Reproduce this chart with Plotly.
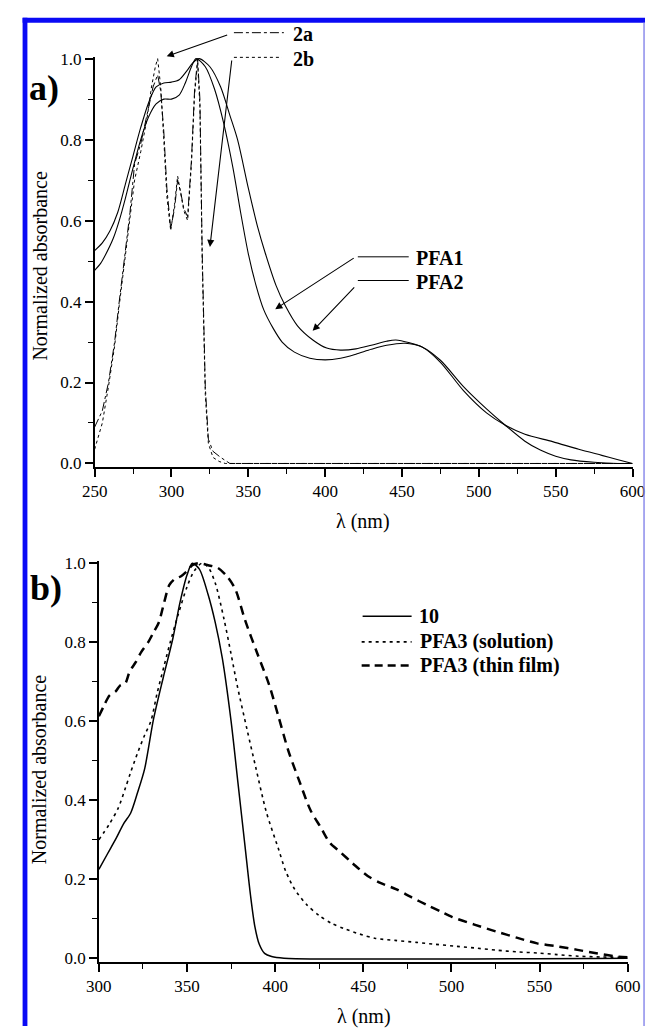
import plotly.graph_objects as go

W, H = 658, 1032
FONT = "Liberation Serif, Times New Roman, serif"

# ---------------- data: panel a ----------------
pfa1_x = [250, 254, 257, 262, 266, 270, 275, 280, 285, 290, 295, 300, 305, 309, 313, 316,
          322, 328, 334, 340, 345, 350, 355, 360, 366, 372, 380, 390, 400, 410, 420, 430,
          440, 452, 463, 475, 490, 505, 517, 530, 540, 550, 560, 575, 590, 600]
pfa1_y = [0.477, 0.495, 0.515, 0.555, 0.60, 0.655, 0.73, 0.80, 0.855, 0.888, 0.90, 0.90, 0.91, 0.94, 0.98, 1.0,
          0.98, 0.925, 0.84, 0.73, 0.62, 0.518, 0.44, 0.38, 0.335, 0.30, 0.275, 0.26, 0.256, 0.26, 0.27, 0.282,
          0.292, 0.297, 0.288, 0.255, 0.19, 0.135, 0.095, 0.055, 0.033, 0.018, 0.009, 0.003, 0.0, 0.0]

pfa2_x = [250, 255, 260, 265, 270, 275, 280, 285, 290, 295, 300, 305, 310, 314, 318,
          325, 332, 338, 343, 350, 356, 361, 368, 374, 382, 392, 401, 410, 420, 430, 440, 446,
          455, 463, 475, 490, 505, 517, 530, 548, 565, 580, 590, 600]
pfa2_y = [0.526, 0.545, 0.575, 0.62, 0.69, 0.76, 0.83, 0.89, 0.93, 0.94, 0.942, 0.948, 0.97, 0.99, 1.0,
          0.98, 0.93, 0.86, 0.80, 0.68, 0.585, 0.52, 0.44, 0.39, 0.34, 0.305, 0.285, 0.28, 0.283, 0.292, 0.302, 0.305,
          0.298, 0.288, 0.25, 0.18, 0.125, 0.095, 0.072, 0.054, 0.035, 0.02, 0.01, 0.0]

c2a_x = [250, 255, 259, 263, 266, 270, 273, 276, 280, 284, 288, 291, 293, 295, 297, 299.5, 302, 304,
         306, 308, 310.5, 313, 315, 317, 318.5, 320, 322, 324, 327, 332, 338, 600]
c2a_y = [0.09, 0.13, 0.20, 0.30, 0.40, 0.52, 0.62, 0.74, 0.79, 0.86, 0.93, 0.96, 0.92, 0.82, 0.68, 0.58, 0.63, 0.70,
         0.67, 0.63, 0.61, 0.75, 0.92, 1.0, 0.9, 0.52, 0.19, 0.06, 0.03, 0.015, 0.0, 0.0]

c2b_x = [250, 255, 259, 263, 266, 270, 273, 276, 280, 284, 287, 289.5, 291, 293, 295, 297, 299.5, 302,
         304, 306, 308, 310.5, 313, 315, 317, 318.5, 320, 322, 324, 327, 331, 335, 600]
c2b_y = [0.035, 0.10, 0.19, 0.29, 0.39, 0.51, 0.60, 0.70, 0.77, 0.85, 0.93, 0.98, 1.0, 0.93, 0.80, 0.66, 0.575, 0.64,
         0.71, 0.665, 0.625, 0.60, 0.74, 0.91, 0.99, 0.88, 0.5, 0.17, 0.05, 0.015, 0.005, 0.0, 0.0]

# ---------------- data: panel b ----------------
c10_x = [300, 305, 310, 314, 318, 322, 326, 331, 336.5, 342, 346, 350, 353, 357, 362, 366, 370,
         375, 379, 383, 386, 388.5, 391, 394, 398, 405, 600]
c10_y = [0.225, 0.265, 0.305, 0.34, 0.367, 0.42, 0.48, 0.605, 0.71, 0.81, 0.90, 0.97, 1.0, 0.985, 0.92, 0.85, 0.76,
         0.60, 0.44, 0.28, 0.16, 0.08, 0.035, 0.012, 0.004, 0.0, 0.0]

sol_x = [300, 306, 311, 315, 318, 322, 326, 329.5, 333, 337, 340.5, 345, 350, 354, 358.5, 362, 366, 371,
         375, 378.5, 384, 389, 395, 402, 406, 411, 418, 425, 432, 439, 448, 457, 468, 480, 491,
         503, 515, 526, 537, 549, 560, 572, 585, 599]
sol_y = [0.30, 0.34, 0.38, 0.43, 0.47, 0.52, 0.565, 0.60, 0.67, 0.74, 0.80, 0.87, 0.94, 0.98, 1.0, 0.99, 0.95, 0.858,
         0.77, 0.69, 0.58, 0.483, 0.37, 0.275, 0.22, 0.175, 0.135, 0.108, 0.088, 0.075, 0.061, 0.05, 0.045, 0.04, 0.035,
         0.03, 0.025, 0.02, 0.016, 0.013, 0.009, 0.005, 0.003, 0.002]

film_x = [300, 303, 306, 309.4, 312, 315, 317, 318.5, 321, 324, 328, 331, 334, 337, 340, 343, 346.6, 350,
          353, 356.6, 362, 367.5, 373, 377.5, 383, 390, 396.6, 402, 407.5, 414, 420, 426, 431, 436.6,
          444, 452.5, 460, 468.5, 477, 486.8, 494, 500.5, 513, 525.7, 537, 548.6, 560, 571.5, 583, 594.3, 600]
film_y = [0.6125, 0.64, 0.665, 0.675, 0.69, 0.696, 0.72, 0.733, 0.75, 0.775, 0.80, 0.825, 0.85, 0.90, 0.945, 0.96, 0.967, 0.98,
          0.995, 1.0, 0.995, 0.988, 0.965, 0.933, 0.855, 0.77, 0.692, 0.61, 0.525, 0.445, 0.375, 0.33, 0.292, 0.27,
          0.24, 0.208, 0.19, 0.175, 0.155, 0.133, 0.118, 0.104, 0.085, 0.067, 0.052, 0.0375, 0.03, 0.021, 0.012, 0.004, 0.002]

xticks_a = [250, 300, 350, 400, 450, 500, 550, 600]
xticks_b = [300, 350, 400, 450, 500, 550, 600]
yticks = [0.0, 0.2, 0.4, 0.6, 0.8, 1.0]


def PX(x):
    return x / W


def PY(y):
    return 1 - y / H


fig = go.Figure()


def add(x, y, axis, dash, width, shape="linear"):
    xa, ya = axis
    fig.add_trace(go.Scatter(x=x, y=y, xaxis=xa, yaxis=ya, mode="lines",
                             line=dict(color="black", width=width, dash=dash, shape=shape,
                                       smoothing=0.8 if shape == "spline" else None),
                             showlegend=False, hoverinfo="skip"))


add(pfa1_x, pfa1_y, ("x", "y"), "solid", 1.1, "spline")
add(pfa2_x, pfa2_y, ("x", "y"), "solid", 1.1, "spline")
add(c2a_x, c2a_y, ("x", "y"), "dashdot", 1.0)
add(c2b_x, c2b_y, ("x", "y"), "dot", 1.0)

add(c10_x, c10_y, ("x2", "y2"), "solid", 1.5, "spline")
add(sol_x, sol_y, ("x2", "y2"), "3px,4px", 1.6, "spline")
add(film_x, film_y, ("x2", "y2"), "9px,6px", 2.5, "spline")

tickfont = dict(family=FONT, size=17, color="black")
common = dict(showgrid=False, zeroline=False, showline=True, linecolor="black", linewidth=1.6,
              ticks="outside", ticklen=8, tickwidth=1.6, tickcolor="black", tickfont=tickfont,
              fixedrange=True)

# panel a geometry (pixels)
ay0, ay1 = -0.009, 1.005
a_top = 462.3 - ay1 * 410
a_bot = 462.3 - ay0 * 410
by0, by1 = -0.01, 1.005
b_top = 963.3 - by1 * 400
b_bot = 963.3 - by0 * 400

fig.update_layout(
    width=W, height=H, margin=dict(l=0, r=0, t=0, b=0),
    paper_bgcolor="white", plot_bgcolor="white",
    font=dict(family=FONT, color="black"),
    xaxis=dict(domain=[PX(85), PX(645)], range=[250, 600], anchor="y", tickvals=xticks_a,
               minor=dict(dtick=25, tick0=250, ticklen=5, tickwidth=1.4, tickcolor="black", ticks="outside"),
               **common),
    yaxis=dict(domain=[PY(a_bot), PY(a_top)], range=[ay0, ay1], anchor="x", tickvals=yticks,
               tickformat=".1f",
               minor=dict(dtick=0.1, tick0=0, ticklen=5, tickwidth=1.4, tickcolor="black", ticks="outside"),
               **common),
    xaxis2=dict(domain=[PX(89.4), PX(640)], range=[300, 600], anchor="y2", tickvals=xticks_b,
                minor=dict(dtick=25, tick0=300, ticklen=5, tickwidth=1.4, tickcolor="black", ticks="outside"),
                **common),
    yaxis2=dict(domain=[PY(b_bot), PY(b_top)], range=[by0, by1], anchor="x2", tickvals=yticks,
                tickformat=".1f",
                minor=dict(dtick=0.1, tick0=0, ticklen=5, tickwidth=1.4, tickcolor="black", ticks="outside"),
                **common),
)

ann = []


def text(x, y, s, size, bold=False, xanchor="center", angle=0):
    ann.append(dict(x=PX(x), y=PY(y), xref="paper", yref="paper", text=f"<b>{s}</b>" if bold else s,
                    showarrow=False, xanchor=xanchor, yanchor="middle", textangle=angle,
                    font=dict(family=FONT, size=size, color="black")))


def arrow(hx, hy, tx, ty):
    ann.append(dict(x=PX(hx), y=PY(hy), xref="paper", yref="paper", text="", showarrow=True,
                    ax=tx - hx, ay=ty - hy, axref="pixel", ayref="pixel",
                    arrowhead=2, arrowsize=1.3, arrowwidth=1.1, arrowcolor="black", standoff=0))


text(32, 82, "a)", 36, bold=True)
text(34, 588, "b)", 36, bold=True)
text(289, 27, "2a", 20, bold=True, xanchor="left")
text(289, 53, "2b", 20, bold=True, xanchor="left")
text(417, 254, "PFA1", 20, bold=True, xanchor="left")
text(417, 279, "PFA2", 20, bold=True, xanchor="left")
text(421, 617, "10", 20, bold=True, xanchor="left")
text(422, 643, "PFA3 (solution)", 20, bold=True, xanchor="left")
text(422, 667, "PFA3 (thin film)", 20, bold=True, xanchor="left")
text(364, 521, "λ (nm)", 20)
text(365, 1022, "λ (nm)", 20)
text(28, 262, "Normalized absorbance", 20, angle=-90)
text(27, 772, "Normalized absorbance", 20, angle=-90)

arrow(160, 50, 222, 28)
arrow(205, 243, 227, 55)
arrow(273, 306, 353, 254)
arrow(312, 328, 355, 283)

fig.update_layout(annotations=ann)

shapes = []


def seg(x0, x1, y, dash, width):
    shapes.append(dict(type="line", xref="paper", yref="paper", x0=PX(x0), x1=PX(x1), y0=PY(y), y1=PY(y),
                       line=dict(color="black", width=width, dash=dash)))


seg(230, 282, 26, "dashdot", 1.0)
seg(230, 280, 51, "dot", 1.0)
seg(359, 412, 253, "solid", 1.0)
seg(359, 412, 277, "solid", 1.0)
seg(364, 415, 617, "solid", 1.5)
seg(363, 415, 643, "3px,4px", 1.6)
seg(363, 415, 667, "8px,5px", 2.5)

# blue frame
shapes.append(dict(type="rect", xref="paper", yref="paper", x0=PX(10), x1=PX(15), y0=PY(1032), y1=PY(11),
                   fillcolor="rgb(10,10,245)", line=dict(width=0), layer="above"))
shapes.append(dict(type="rect", xref="paper", yref="paper", x0=PX(10), x1=PX(658), y0=PY(16), y1=PY(11),
                   fillcolor="rgb(10,10,245)", line=dict(width=0), layer="above"))
shapes.append(dict(type="line", xref="paper", yref="paper", x0=PX(657), x1=PX(657), y0=PY(16), y1=PY(1032),
                   line=dict(color="rgb(140,140,235)", width=1.5), layer="above"))

fig.update_layout(shapes=shapes)

fig.write_html("out.html")
